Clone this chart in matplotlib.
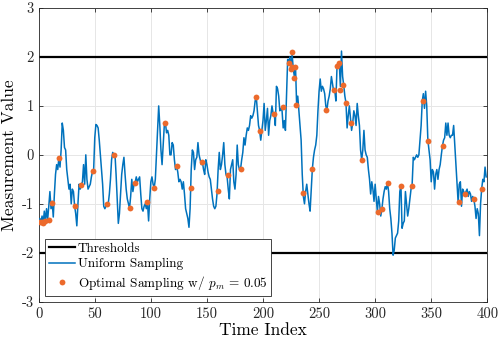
import matplotlib
matplotlib.use("Agg")
import matplotlib.pyplot as plt
import numpy as np

plt.rcParams['font.family'] = ['cmr10', 'DejaVu Serif']
plt.rcParams['mathtext.fontset'] = 'cm'
plt.rcParams['axes.unicode_minus'] = False

# Uniform sampling (blue line) values, index 0..399
uniform_values = [
 -1.38,-1.30,-1.38,-1.25,-1.40,-1.15,-1.35,-1.10,-1.32,-1.05,
 -0.75,-1.10,-0.95,-1.27,-0.80,-0.40,-0.20,-0.30,-0.06,-0.25,
 0.10,0.65,0.50,0.15,0.10,-0.30,-0.50,-0.70,-0.60,-1.00,
 -0.70,-0.75,-1.04,-1.20,-1.45,-1.00,-0.60,-0.70,-0.61,-0.55,
 -0.20,-0.60,0.00,-0.50,-0.70,-0.65,-0.60,-0.45,-0.34,-0.30,
 0.35,0.62,0.60,0.55,0.30,0.00,-0.30,-0.60,-1.05,-1.10,
 -1.05,-1.01,-1.00,-0.80,-0.50,-0.10,0.05,0.00,0.02,-0.40,
 -0.90,-1.40,-1.20,-0.80,-0.40,-0.20,-0.05,-0.40,-0.70,-0.90,
 -1.00,-1.09,-0.85,-0.50,-0.75,-0.60,-0.57,-0.45,-0.55,-0.50,
 -0.45,-0.80,-1.10,-1.15,-1.05,-1.00,-1.10,-0.97,-1.35,-0.90,
 -0.55,-0.45,-0.60,-0.67,-0.50,0.00,0.50,1.00,0.60,0.10,
 -0.20,0.20,0.60,0.65,0.45,0.50,0.40,0.00,0.00,0.25,
 0.20,-0.10,-0.30,-0.23,-0.35,-0.55,-0.50,-0.55,-0.70,-0.55,
 -0.80,-1.10,-1.20,-1.30,-1.48,-1.10,-0.30,0.10,0.05,-0.30,
 -0.10,-0.05,0.25,0.00,-0.10,-0.20,-0.15,-0.30,-0.40,-0.10,
 -0.20,-0.35,-0.45,-0.50,-0.70,-0.90,-1.05,-1.10,-1.05,-0.80,
 -0.30,0.05,-0.30,-0.20,0.00,0.25,-0.20,-0.40,-0.45,-0.70,
 -0.90,-0.30,-0.20,-0.10,-0.55,-0.70,-0.40,0.20,-0.20,-0.30,
 -0.29,-0.10,0.05,0.35,0.20,0.40,0.55,0.50,0.60,0.80,
 0.75,0.80,0.90,1.10,1.19,0.90,0.60,0.50,0.30,0.50,
 0.70,1.05,0.50,0.70,0.95,0.40,0.70,0.80,1.00,0.85,
 0.84,0.60,1.40,1.35,1.20,0.90,0.95,0.90,0.55,0.70,
 0.50,1.20,1.95,1.90,2.00,1.80,2.05,1.75,1.60,1.80,
 1.02,1.20,0.90,0.60,0.30,-0.40,-0.85,-1.00,-0.75,-0.60,
 -0.80,-1.00,-1.15,-0.70,-0.29,-0.05,0.10,0.20,0.40,0.90,
 1.30,1.55,1.30,1.40,1.35,1.25,1.00,0.92,1.10,1.20,
 1.35,1.60,1.45,1.30,1.32,1.10,1.80,1.85,1.88,1.40,
 2.12,1.60,1.42,1.20,1.06,0.55,0.80,1.00,0.75,0.50,
 0.65,0.90,0.80,0.60,1.05,0.80,0.60,0.10,-0.10,0.10,
 0.50,0.10,0.00,-0.05,-0.30,-0.50,-0.80,-0.55,-0.70,-0.95,
 -0.60,-0.90,-1.16,-0.85,-1.00,-1.25,-1.11,-0.90,-0.75,-0.65,
 -0.70,-0.57,-0.75,-1.10,-1.30,-1.60,-2.05,-1.95,-1.70,-1.65,
 -1.60,-1.35,-0.75,-0.63,-1.50,-1.40,-1.35,-0.75,-1.00,-1.25,
 -1.10,-0.90,-0.70,-0.60,-0.05,-0.10,-0.05,0.00,-0.05,0.00,
 0.30,0.60,1.10,1.25,0.95,1.30,1.00,0.30,0.10,-0.10,
 -0.55,-0.30,-0.35,-0.70,-0.40,-0.30,-0.50,-0.30,-0.20,0.00,
 0.18,0.30,0.35,0.65,0.40,0.65,0.40,0.35,0.40,0.40,
 0.60,0.20,-0.20,-0.60,-0.97,-0.60,-0.55,-1.05,-0.70,-0.75,
 -0.81,-0.75,-0.70,-0.85,-0.75,-0.80,-0.95,-0.85,-0.91,-1.05,
 -1.30,-1.10,-1.20,-1.65,-1.00,-0.69,-0.50,-0.55,-0.25,-0.45,
]

# Optimal sampling points (orange dots)
opt_t = [1, 3, 4, 6, 9, 12, 18, 32, 38, 48, 61, 67, 81, 86, 97, 103, 113, 123,
         135.5, 145.6, 159.6, 168.8, 180.7, 193.8, 197.6, 209.8, 217.8, 223.5,
         225.6, 224.7, 226, 228.5, 227.3, 229.4, 235.4, 243.4, 256.5, 263.6,
         266.3, 267.8, 268.6, 271.6, 273.7, 278.5, 288.6, 302.2, 306.4, 311.1,
         322.7, 332.5, 342.3, 347.4, 360.2, 374.4, 380.4, 388.1, 395.2]
opt_v = [-1.38, -1.38, -1.40, -1.36, -1.33, -0.99, -0.06, -1.04, -0.61, -0.34,
         -1.01, 0.00, -1.09, -0.57, -0.97, -0.67, 0.65, -0.23, -0.67, -0.15,
         -0.74, -0.42, -0.29, 1.19, 0.48, 0.84, 0.97, 1.88, 2.11, 1.76, 1.80,
         1.80, 1.57, 1.02, -0.78, -0.29, 0.92, 1.32, 1.82, 1.88, 1.32, 1.42,
         1.06, 0.65, -0.10, -1.16, -1.11, -0.57, -0.63, -0.63, 1.10, 0.29,
         0.18, -0.97, -0.81, -0.91, -0.69]

thresholds = [2, -2]
xticks = [0, 50, 100, 150, 200, 250, 300, 350, 400]
yticks = [-3, -2, -1, 0, 1, 2, 3]
ytick_labels = ['-3', '-2', '-1', '0', '1', '2', '3']

fig = plt.figure(figsize=(4.98, 3.44), dpi=100)
ax = fig.add_axes([0.0777, 0.123, 0.9008, 0.8537])

t = np.arange(len(uniform_values))
for i, th in enumerate(thresholds):
    ax.axhline(th, color='black', lw=1.6, label='Thresholds' if i == 0 else None, zorder=2)
ax.plot(t, uniform_values, color='#0072BD', lw=1.1, label='Uniform Sampling', zorder=3)
ax.plot(opt_t, opt_v, 'o', color='#EC6A2C', ms=4.2, mec='none',
        label=r'Optimal Sampling w/ $p_m$ = 0.05', zorder=4)

ax.set_xlim(0, 400)
ax.set_ylim(-3, 3)
ax.set_xticks(xticks)
ax.set_xticklabels([str(x) for x in xticks])
ax.set_yticks(yticks)
ax.set_yticklabels(ytick_labels)
ax.grid(True, color='#e6e6e6', lw=0.7)
ax.set_axisbelow(True)
for s in ax.spines.values():
    s.set_color('#262626')
    s.set_linewidth(0.6)
ax.tick_params(direction='in', length=3, width=0.6, labelsize=10.5, colors='#262626',
               top=True, right=True)
ax.tick_params(axis='x', pad=4)
ax.set_xlabel('Time Index', fontsize=12.5, labelpad=1)
ax.set_ylabel('Measurement Value', fontsize=12.5, labelpad=3)

leg = ax.legend(loc='lower left', fontsize=9.5, fancybox=False, framealpha=1,
                edgecolor='#262626', borderpad=0.3, handlelength=2.0,
                handletextpad=0.2, labelspacing=0.25, borderaxespad=0.45)
leg.get_frame().set_linewidth(0.6)

fig.savefig('out.png', dpi=100)
